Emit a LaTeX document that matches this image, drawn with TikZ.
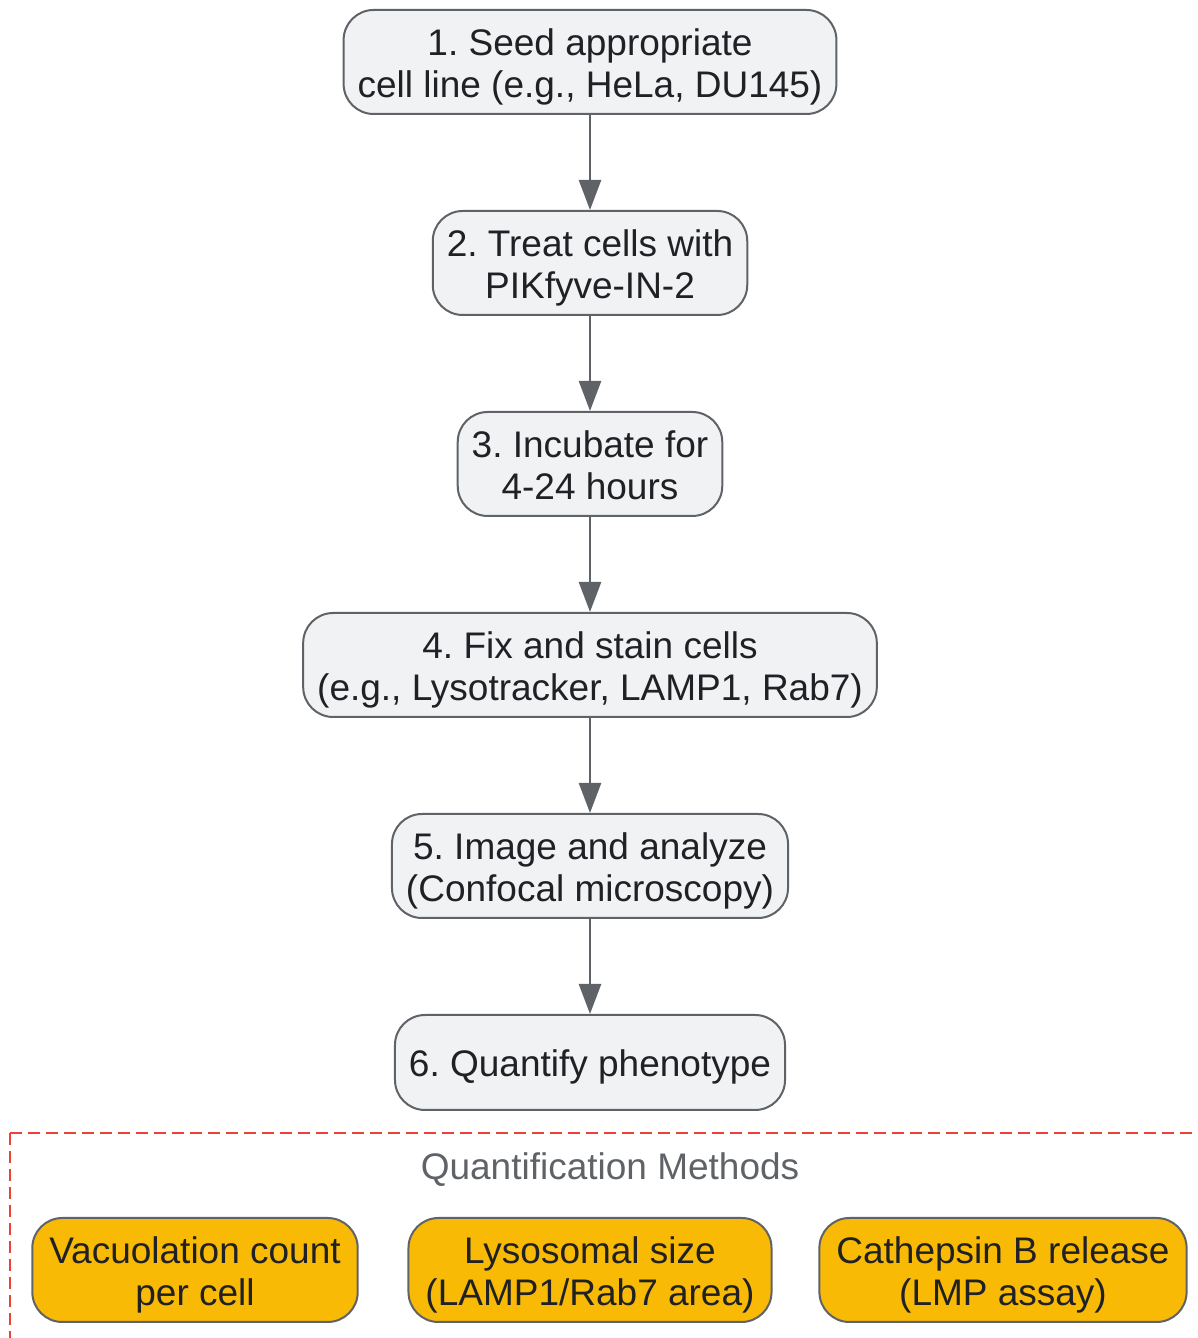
\documentclass[tikz,border=0pt]{standalone}
\usepackage{fontspec}
\setmainfont{Liberation Sans}
\usetikzlibrary{positioning, arrows.meta}
\definecolor{stepfill}{HTML}{F1F2F4}
\definecolor{stepline}{HTML}{5F6368}
\definecolor{methfill}{HTML}{F9BA06}
\definecolor{groupred}{HTML}{EA4335}
\definecolor{inktext}{HTML}{202124}
\tikzset{
  x=1pt, y=1pt,
  >={Triangle[length=30pt, width=22pt]},
  node distance=95pt,
  every node/.style={font=\fontsize{37}{42}\selectfont\frenchspacing, text=inktext},
  stepbox/.style={draw=stepline, line width=2pt, fill=stepfill, rounded corners=30pt,
    align=center, inner xsep=14pt, minimum height=104pt,
    text height=79pt, text depth=8pt},
  methbox/.style={stepbox, fill=methfill, inner xsep=17pt},
  flow/.style={->, draw=stepline, line width=2.5pt},
}

\begin{document}
\begin{tikzpicture}
        \useasboundingbox (0,0) rectangle (1198,1338);
        % steps
        \node[stepbox] (seed) at (590,1276) {1. Seed appropriate\\cell line (e.g., HeLa, DU145)};
        \node[stepbox, below=of seed] (treat) {2. Treat cells with\\PIKfyve-IN-2};
        \node[stepbox, below=of treat] (incubate) {3. Incubate for\\4-24 hours};
        \node[stepbox, below=of incubate] (stain) {4. Fix and stain cells\\(e.g., Lysotracker, LAMP1, Rab7)};
        \node[stepbox, below=of stain] (image) {5. Image and analyze\\(Confocal microscopy)};
        \node[stepbox, minimum height=95pt, text height=37pt, below=of image] (quantify) {6. Quantify phenotype};

        % quantification methods
        \draw[groupred, line width=2pt, dash pattern=on 12pt off 6pt] (10,205) rectangle (1230,-30);
        \node[text=stepline] (methods) at (610,168) {Quantification Methods};
        \node[methbox] (vacuole) at (195,68) {Vacuolation count\\per cell};
        \node[methbox] (lysosome) at (590,68) {Lysosomal size\\(LAMP1/Rab7 area)};
        \node[methbox] (cathepsin) at (1003,68) {Cathepsin B release\\(LMP assay)};

        % transitions
        \draw[flow] (seed) -- (treat);
        \draw[flow] (treat) -- (incubate);
        \draw[flow] (incubate) -- (stain);
        \draw[flow] (stain) -- (image);
        \draw[flow] (image) -- (quantify);
      \end{tikzpicture}
\end{document}
